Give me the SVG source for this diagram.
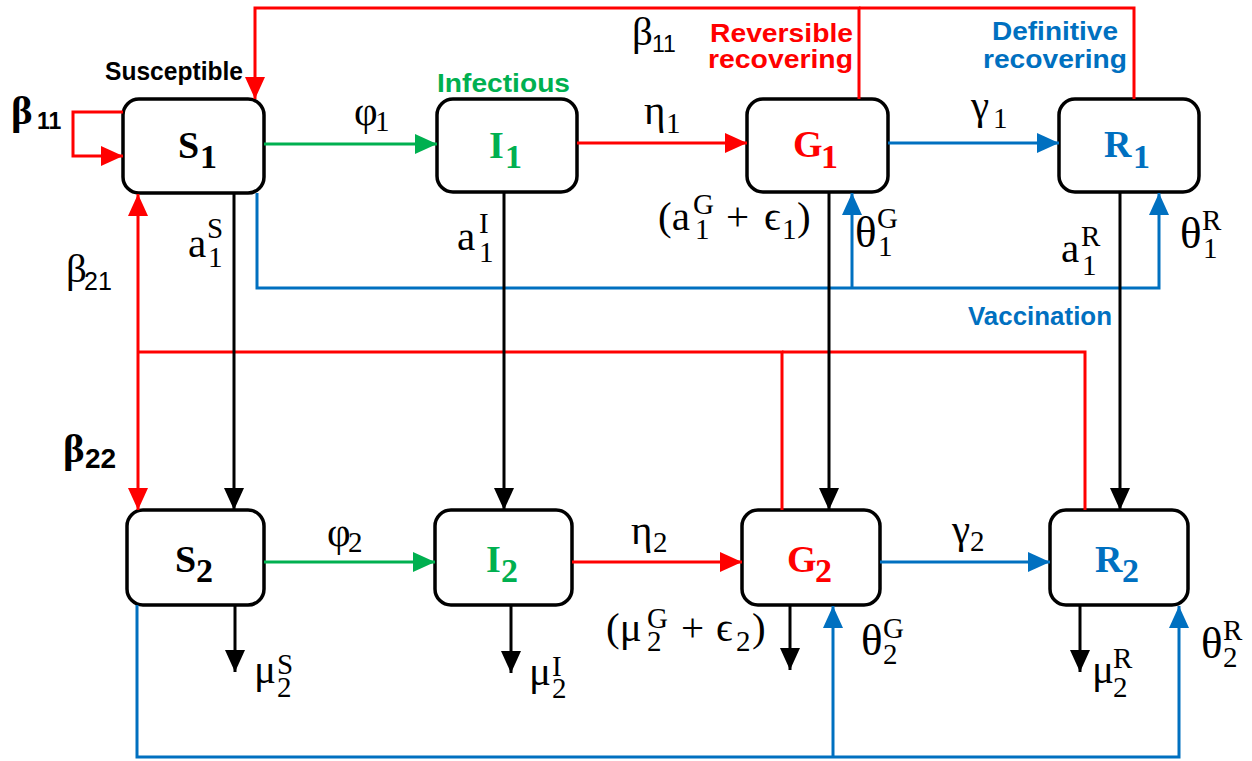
<svg xmlns="http://www.w3.org/2000/svg" width="1252" height="761" viewBox="0 0 1252 761">
<style>
.box{fill:#fff;stroke:#000;stroke-width:3.5}
.ln{fill:none;stroke-width:3}
.r{stroke:#FF0000}.g{stroke:#00B050}.b{stroke:#0070C0}.k{stroke:#000}
.nl{font-family:"Liberation Serif",serif;font-weight:bold;font-size:38px}
.ns{font-size:34px}
.m{font-family:"Liberation Serif","DejaVu Serif",serif;font-size:41px;fill:#000}
.sc{font-size:29px}
.th{font-size:45px}
.lab{font-family:"Liberation Sans",Arial,sans-serif;font-weight:bold;font-size:26px}
.dg{font-family:"Liberation Sans",Arial,sans-serif}
</style>
<defs>
<marker id="ak" viewBox="0 0 22 20" markerWidth="22" markerHeight="20" refX="22" refY="10" orient="auto" markerUnits="userSpaceOnUse"><path d="M0,0 L22,10 L0,20 z" fill="#000"/></marker>
<marker id="ar" viewBox="0 0 22 20" markerWidth="22" markerHeight="20" refX="22" refY="10" orient="auto" markerUnits="userSpaceOnUse"><path d="M0,0 L22,10 L0,20 z" fill="#FF0000"/></marker>
<marker id="ag" viewBox="0 0 22 20" markerWidth="22" markerHeight="20" refX="22" refY="10" orient="auto" markerUnits="userSpaceOnUse"><path d="M0,0 L22,10 L0,20 z" fill="#00B050"/></marker>
<marker id="ab" viewBox="0 0 22 20" markerWidth="22" markerHeight="20" refX="22" refY="10" orient="auto" markerUnits="userSpaceOnUse"><path d="M0,0 L22,10 L0,20 z" fill="#0070C0"/></marker>
</defs>
<rect width="1252" height="761" fill="#fff"/>

<g id="nodes">
<g id="S1"><rect class="box" x="123" y="99" width="141" height="94" rx="16"/><text class="nl" fill="#000"><tspan x="178" y="158">S</tspan><tspan class="ns" x="200" y="168">1</tspan></text></g>
<g id="I1"><rect class="box" x="437" y="99" width="140" height="93" rx="16"/><text class="nl" fill="#00B050"><tspan x="489" y="158">I</tspan><tspan class="ns" x="505" y="168">1</tspan></text></g>
<g id="G1"><rect class="box" x="747" y="99" width="141" height="93" rx="16"/><text class="nl" fill="#FF0000"><tspan x="793" y="157">G</tspan><tspan class="ns" x="821" y="168">1</tspan></text></g>
<g id="R1"><rect class="box" x="1059" y="99" width="140" height="93" rx="16"/><text class="nl" fill="#0070C0"><tspan x="1104" y="157">R</tspan><tspan class="ns" x="1133" y="168">1</tspan></text></g>
<g id="S2"><rect class="box" x="127" y="510" width="137" height="95" rx="16"/><text class="nl" fill="#000"><tspan x="175" y="572">S</tspan><tspan class="ns" x="196" y="582">2</tspan></text></g>
<g id="I2"><rect class="box" x="435" y="510" width="137" height="95" rx="16"/><text class="nl" fill="#00B050"><tspan x="486" y="572">I</tspan><tspan class="ns" x="501" y="582">2</tspan></text></g>
<g id="G2"><rect class="box" x="742" y="510" width="138" height="95" rx="16"/><text class="nl" fill="#FF0000"><tspan x="787" y="572">G</tspan><tspan class="ns" x="815" y="582">2</tspan></text></g>
<g id="R2"><rect class="box" x="1050" y="510" width="138" height="95" rx="16"/><text class="nl" fill="#0070C0"><tspan x="1095" y="572">R</tspan><tspan class="ns" x="1122" y="582">2</tspan></text></g>
</g>

<g id="connectors">
<path class="ln r" d="M1134,99 V8 H859"/>
<path class="ln r" d="M859,99 V8 H255 V99" marker-end="url(#ar)"/>
<path class="ln r" d="M123,112 H73 V156 H123" marker-end="url(#ar)"/>
<path class="ln r" d="M577,143 H747" marker-end="url(#ar)"/>
<path class="ln r" d="M572,562 H742" marker-end="url(#ar)"/>
<path class="ln r" d="M782,510 V352 H138"/>
<path class="ln r" d="M1085,510 V352 H782"/>
<path class="ln r" d="M138,352 V194" marker-end="url(#ar)"/>
<path class="ln r" d="M138,352 V510" marker-end="url(#ar)"/>
<path class="ln g" d="M264,144 H437" marker-end="url(#ag)"/>
<path class="ln g" d="M264,562 H435" marker-end="url(#ag)"/>
<path class="ln b" d="M888,143 H1059" marker-end="url(#ab)"/>
<path class="ln b" d="M880,562 H1050" marker-end="url(#ab)"/>
<path class="ln b" d="M257,193 V288 H1159 V193" marker-end="url(#ab)"/>
<path class="ln b" d="M852,288 V193" marker-end="url(#ab)"/>
<path class="ln b" d="M137,605 V757 H1179 V606" marker-end="url(#ab)"/>
<path class="ln b" d="M833,757 V606" marker-end="url(#ab)"/>
<path class="ln k" d="M234,193 V510" marker-end="url(#ak)"/>
<path class="ln k" d="M504,192 V510" marker-end="url(#ak)"/>
<path class="ln k" d="M829,192 V510" marker-end="url(#ak)"/>
<path class="ln k" d="M1120,192 V510" marker-end="url(#ak)"/>
<path class="ln k" d="M235,605 V672" marker-end="url(#ak)"/>
<path class="ln k" d="M511,605 V673" marker-end="url(#ak)"/>
<path class="ln k" d="M790,605 V670" marker-end="url(#ak)"/>
<path class="ln k" d="M1080,605 V672" marker-end="url(#ak)"/>
</g>

<g id="labels">
<text class="lab" x="105" y="80" font-size="24" fill="#000" textLength="138" lengthAdjust="spacingAndGlyphs">Susceptible</text>
<text class="lab" x="437" y="92" font-size="27" fill="#00B050" textLength="133" lengthAdjust="spacingAndGlyphs">Infectious</text>
<text class="lab" x="710" y="42" font-size="27" fill="#FF0000" textLength="143" lengthAdjust="spacingAndGlyphs">Reversible</text>
<text class="lab" x="708" y="68" font-size="27" fill="#FF0000" textLength="145" lengthAdjust="spacingAndGlyphs">recovering</text>
<text class="lab" x="992" y="40" font-size="26" fill="#0070C0" textLength="126" lengthAdjust="spacingAndGlyphs">Definitive</text>
<text class="lab" x="983" y="68" font-size="26" fill="#0070C0" textLength="144" lengthAdjust="spacingAndGlyphs">recovering</text>
<text class="lab" x="968" y="325" font-size="24" fill="#0070C0" textLength="144" lengthAdjust="spacingAndGlyphs">Vaccination</text>

<text class="m" font-weight="bold" font-size="43"><tspan x="11" y="124">β</tspan><tspan class="dg" font-size="23" x="37" y="129">11</tspan></text>
<text class="m" font-weight="bold" font-size="43"><tspan x="63" y="462">β</tspan><tspan class="dg" font-size="28" x="85" y="468">22</tspan></text>
<text class="m" font-size="40"><tspan x="66" y="282">β</tspan><tspan class="dg" font-size="25" x="84" y="290">21</tspan></text>
<text class="m" font-size="34"><tspan x="632" y="45">β</tspan><tspan class="dg" font-size="23" x="652" y="52">11</tspan></text>

<text class="m"><tspan x="354" y="125">φ</tspan><tspan class="sc" x="375" y="131">1</tspan></text>
<text class="m"><tspan x="644" y="124">η</tspan><tspan class="sc" x="666" y="133">1</tspan></text>
<text class="m"><tspan x="971" y="119">γ</tspan><tspan class="sc" x="993" y="128">1</tspan></text>
<text class="m"><tspan x="327" y="546">φ</tspan><tspan class="sc" x="348" y="552">2</tspan></text>
<text class="m"><tspan x="631" y="544">η</tspan><tspan class="sc" x="653" y="552">2</tspan></text>
<text class="m"><tspan x="952" y="543">γ</tspan><tspan class="sc" x="970" y="551">2</tspan></text>

<text class="m"><tspan x="188" y="257">a</tspan><tspan class="sc" x="207" y="238">S</tspan><tspan class="sc" x="208" y="267">1</tspan></text>
<text class="m"><tspan x="457" y="250">a</tspan><tspan class="sc" x="479" y="233">I</tspan><tspan class="sc" x="479" y="262">1</tspan></text>
<text class="m"><tspan x="1061" y="262">a</tspan><tspan class="sc" x="1081" y="246">R</tspan><tspan class="sc" x="1082" y="275">1</tspan></text>
<text class="m"><tspan x="658" y="230">(a</tspan><tspan class="sc" x="693" y="214">G</tspan><tspan class="sc" x="695" y="239">1</tspan><tspan x="726" y="230">+</tspan><tspan x="764" y="230">ϵ</tspan><tspan class="sc" x="782" y="239">1</tspan><tspan x="797" y="230">)</tspan></text>
<text class="m"><tspan class="th" x="855" y="247">θ</tspan><tspan class="sc" x="877" y="228">G</tspan><tspan class="sc" x="878" y="256">1</tspan></text>
<text class="m"><tspan class="th" x="1180" y="248">θ</tspan><tspan class="sc" x="1202" y="230">R</tspan><tspan class="sc" x="1203" y="258">1</tspan></text>

<text class="m"><tspan x="254" y="683">μ</tspan><tspan class="sc" x="277" y="674">S</tspan><tspan class="sc" x="277" y="697">2</tspan></text>
<text class="m"><tspan x="529" y="685">μ</tspan><tspan class="sc" x="552" y="676">I</tspan><tspan class="sc" x="552" y="698">2</tspan></text>
<text class="m"><tspan x="1092" y="683">μ</tspan><tspan class="sc" x="1113" y="668">R</tspan><tspan class="sc" x="1113" y="697">2</tspan></text>
<text class="m"><tspan x="606" y="641">(μ</tspan><tspan class="sc" x="647" y="628">G</tspan><tspan class="sc" x="647" y="651">2</tspan><tspan x="681" y="641">+</tspan><tspan x="716" y="641">ϵ</tspan><tspan class="sc" x="736" y="651">2</tspan><tspan x="752" y="641">)</tspan></text>
<text class="m"><tspan class="th" x="861" y="655">θ</tspan><tspan class="sc" x="883" y="638">G</tspan><tspan class="sc" x="883" y="664">2</tspan></text>
<text class="m"><tspan class="th" x="1201" y="658">θ</tspan><tspan class="sc" x="1223" y="640">R</tspan><tspan class="sc" x="1223" y="667">2</tspan></text>
</g>
</svg>
